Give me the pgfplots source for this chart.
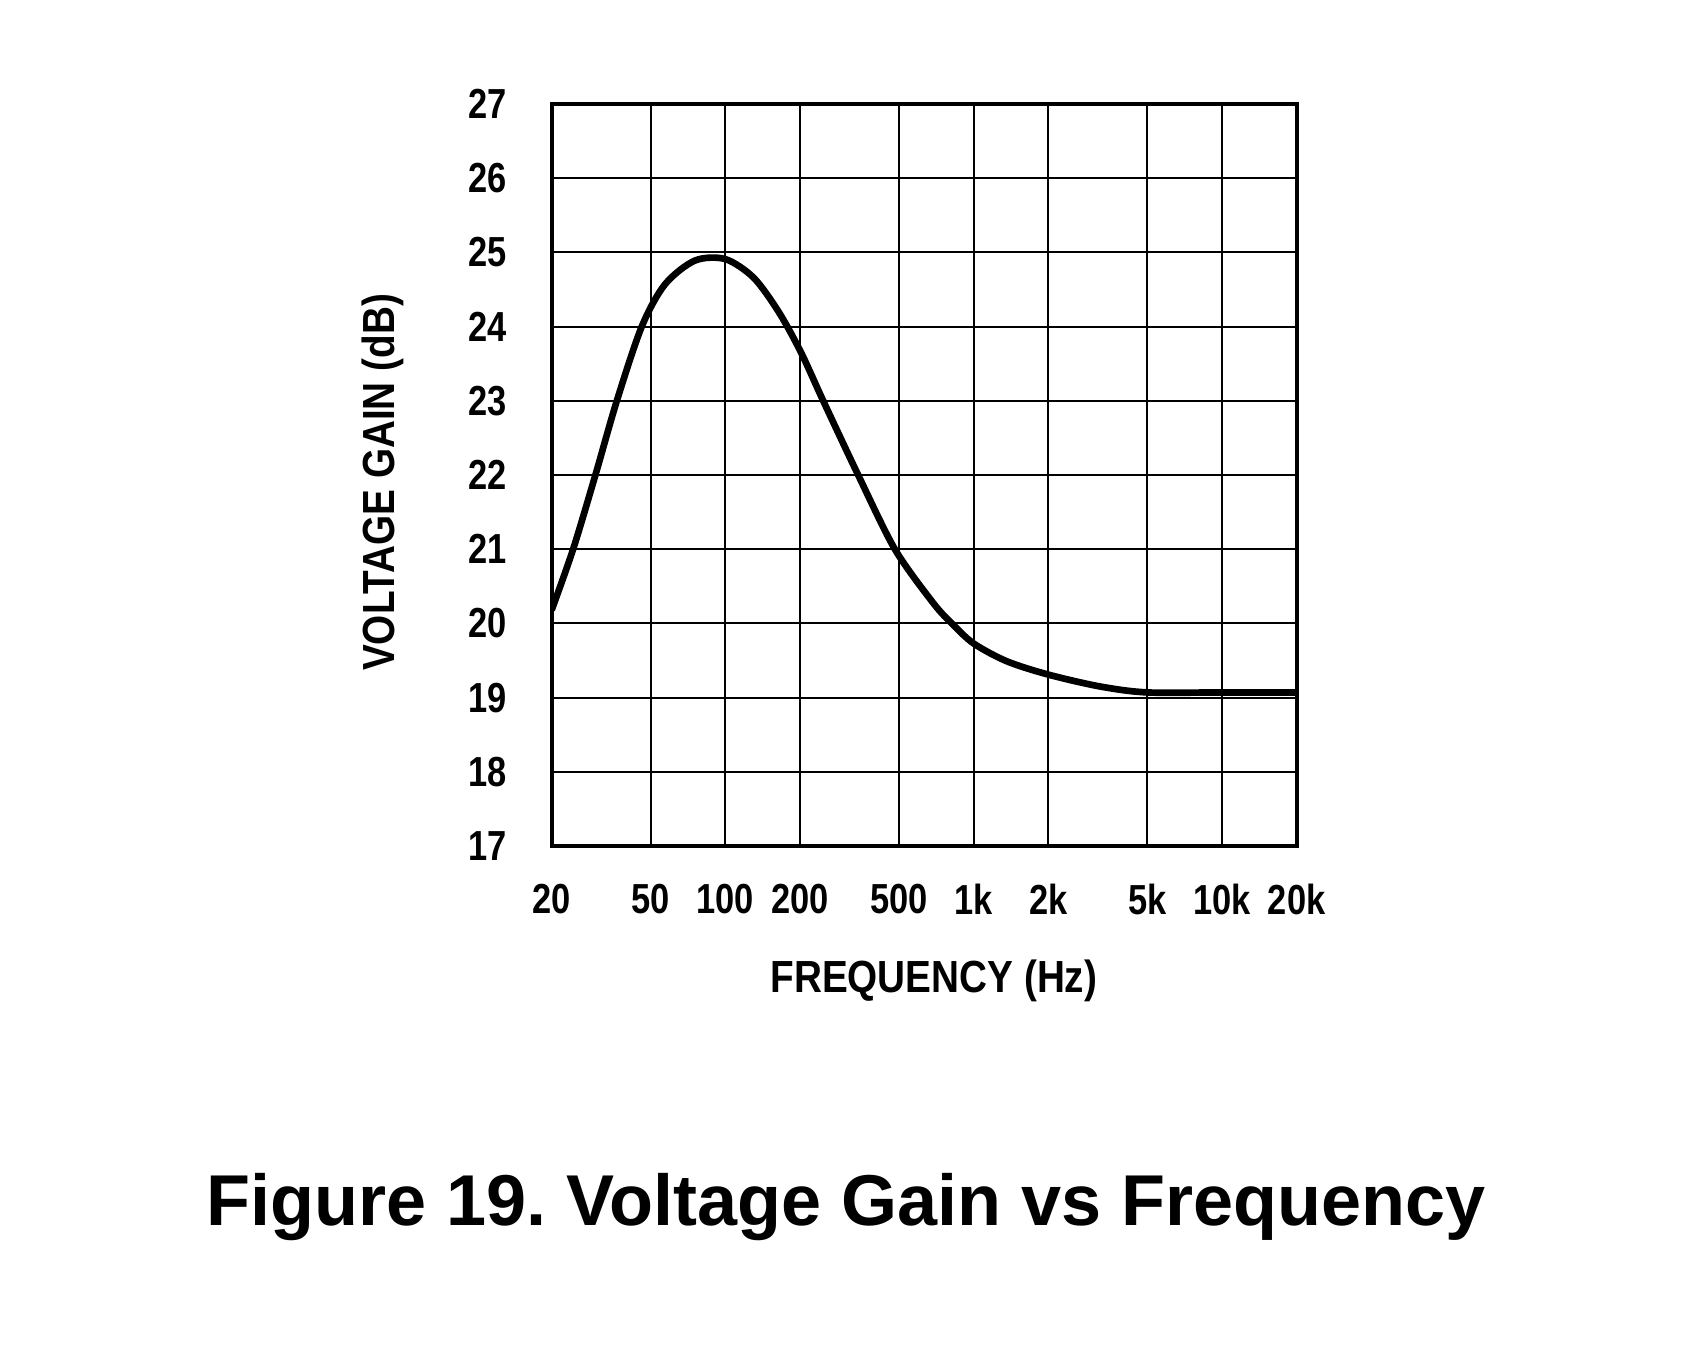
\documentclass[border=0pt]{standalone}
\usepackage{fontspec}
\setmainfont{Liberation Sans}
\newfontfamily\narrowfont{Liberation Sans}[FakeStretch=0.82]
\newfontfamily\labelfont{Liberation Sans}[FakeStretch=0.86]
\usepackage{pgfplots}
\pgfplotsset{compat=1.18}
\frenchspacing

\begin{document}
\begin{tikzpicture}
% page frame around the plot
\useasboundingbox (-165.5pt,-151.2pt) rectangle (342.4pt,253.8pt);
\begin{axis}[
  name=ax, at={(0,0)}, anchor=south west,
  scale only axis, width=223.5pt, height=222.6pt,
  xmode=log, xmin=20, xmax=20000, ymin=17, ymax=27,
  xtick={20,50,100,200,500,1000,2000,5000,10000,20000},
  xticklabels={20,50,100,200,500,1k,2k,5k,10k,20k},
  xminorticks=false,
  ytick={17,18,19,20,21,22,23,24,25,26,27},
  yticklabels={17,18,19,20,21,22,23,24,25,26,27},
  /pgf/number format/assume math mode=true,
  grid=major,
  major grid style={black, line width=0.6pt},
  major tick length=0pt,
  axis line style={black, line width=1.3pt},
  tick label style={font=\fontsize{12.6}{14}\narrowfont\bfseries, inner sep=0pt},
  xticklabel style={anchor=north, yshift=-11.1pt},
  yticklabel style={anchor=east, xshift=-13.4pt},
  xlabel={FREQUENCY (Hz)},
  ylabel={VOLTAGE GAIN (dB)},
  label style={font=\fontsize{13.5}{15}\labelfont\bfseries},
  xlabel style={at={(axis description cs:0.513,-0.182)}, anchor=center},
  ylabel style={at={(axis description cs:-0.227,0.49)}, anchor=center},
]
% measured gain response
\addplot[black, line width=2pt, smooth] coordinates {
  (20,20.18) (24.4,21) (30,22) (36.6,23) (46.1,24) (57.2,24.57)
  (75.5,24.89) (100,24.91) (130,24.66) (164,24.2) (202,23.65)
  (248,23) (343,22) (482,21) (686,20.28) (817,20) (1000,19.73)
  (1360,19.49) (2000,19.31) (3230,19.15) (5000,19.07) (10000,19.07)
  (20000,19.07)
};
\end{axis}
\node[anchor=base, font=\fontsize{21.6}{24}\selectfont\bfseries]
  at ([shift={(88.3pt,-113.7pt)}]ax.south west) {Figure 19. Voltage Gain vs Frequency};
\end{tikzpicture}
\end{document}
